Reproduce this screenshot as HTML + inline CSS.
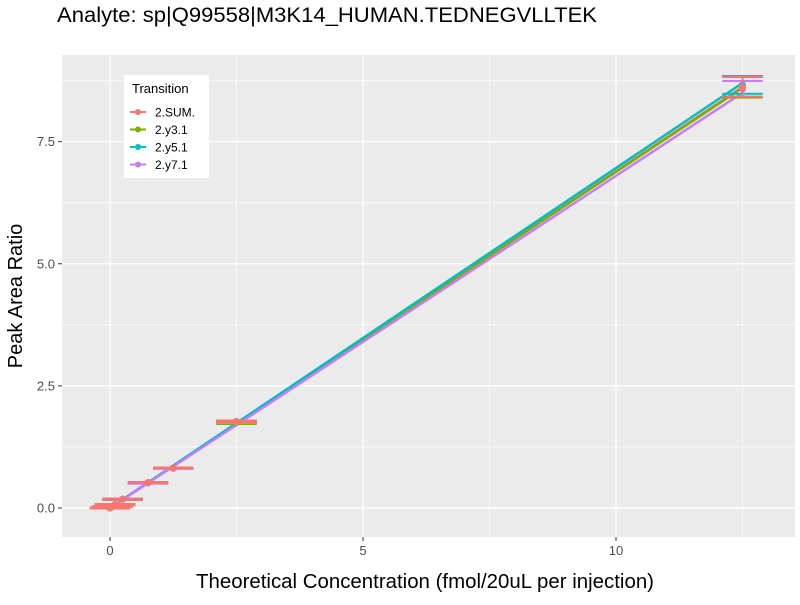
<!DOCTYPE html>
<html><head><meta charset="utf-8"><style>
body{margin:0;background:#fff;font-family:"Liberation Sans",sans-serif}
</style></head><body>
<svg width="800" height="600" xmlns="http://www.w3.org/2000/svg" font-family="Liberation Sans, sans-serif">
<text x="57" y="22" font-size="21" textLength="540" lengthAdjust="spacingAndGlyphs" fill="#000">Analyte: sp|Q99558|M3K14_HUMAN.TEDNEGVLLTEK</text>
<rect x="62" y="55" width="733" height="482" fill="#EBEBEB"/>
<g id="grid"></g>
<g id="marks"></g>
<g id="axes"></g>
<g>
<rect x="124" y="75" width="85" height="103" fill="#fff"/>
<text x="132" y="93" font-size="13">Transition</text>
<g id="legend-items"></g>
</g>
<text x="425" y="588" font-size="20" textLength="458" lengthAdjust="spacingAndGlyphs" text-anchor="middle">Theoretical Concentration (fmol/20uL per injection)</text>
<text transform="translate(22,296) rotate(-90)" font-size="20" text-anchor="middle">Peak Area Ratio</text>
</svg>
<script>
const names=["2.SUM.","2.y3.1","2.y5.1","2.y7.1"];
const colors=["#F8766D","#7CAE00","#00BFC4","#C77CFF"];
const conc=[0,0.05,0.1,0.25,0.75,1.25,2.5,12.5];
const meanSum=[0,0.03,0.07,0.18,0.52,0.82,1.77,8.62];
const meanY3=[0,0.03,0.07,0.18,0.52,0.82,1.75,8.62];
const meanY5=[0,0.03,0.07,0.18,0.52,0.82,1.77,8.66];
const meanY7=[0,0.03,0.07,0.18,0.51,0.81,1.76,8.58];
const sdSum=[0.01,0.01,0.01,0.01,0.01,0.01,0.02,0.2];
const sdY3=[0.01,0.01,0.01,0.01,0.01,0.01,0.03,0.22];
const sdY5=[0.01,0.01,0.01,0.01,0.01,0.01,0.02,0.18];
const sdY7=[0.01,0.01,0.01,0.01,0.01,0.01,0.02,0.16];
const fitEnd=[8.62,8.6,8.7,8.5];
const xTicks=[0,5,10];const yTicks=[0,2.5,5,7.5];
const yTickLabels=["0.0","2.5","5.0","7.5"];
const means=[meanSum,meanY3,meanY5,meanY7],sds=[sdSum,sdY3,sdY5,sdY7];
const X=v=>110+v*50.6, Y=v=>508-v*48.85;
const NS="http://www.w3.org/2000/svg";
function mk(t,a,p){const e=document.createElementNS(NS,t);for(const k in a)e.setAttribute(k,a[k]);p.appendChild(e);return e;}
const grid=document.getElementById('grid'),marks=document.getElementById('marks'),axes=document.getElementById('axes');
[2.5,7.5,12.5].forEach(v=>{if(X(v)<795){const l=mk('line',{x1:X(v),x2:X(v),y1:55,y2:537,stroke:'#fff','stroke-width':0.6},grid);}});
[1.25,3.75,6.25,8.75].forEach(v=>{const l=mk('line',{x1:62,x2:795,y1:Y(v),y2:Y(v),stroke:'#fff','stroke-width':0.6},grid);});
xTicks.forEach(v=>{const l=mk('line',{x1:X(v),x2:X(v),y1:55,y2:537,stroke:'#fff','stroke-width':1.2},grid);
mk('line',{x1:X(v),x2:X(v),y1:537,y2:541,stroke:'#333'},axes);
const t=mk('text',{x:X(v),y:555,'font-size':13,'text-anchor':'middle',fill:'#4D4D4D'},axes);t.textContent=v;});
yTicks.forEach((v,i)=>{const l=mk('line',{x1:62,x2:795,y1:Y(v),y2:Y(v),stroke:'#fff','stroke-width':1.2},grid);
mk('line',{x1:58,x2:62,y1:Y(v),y2:Y(v),stroke:'#333'},axes);
const t=mk('text',{x:55,y:Y(v)+4.5,'font-size':13,'text-anchor':'end',fill:'#4D4D4D'},axes);t.textContent=yTickLabels[i];});
const order=[0,1,2,3];
order.forEach(s=>{const l=mk('line',{x1:X(0),y1:Y(0),x2:X(12.5),y2:Y(fitEnd[s]),stroke:colors[s],'stroke-width':2.5},marks);});
[1,2,3,0].forEach(s=>{conc.forEach((c,i)=>{const m=means[s][i],d=sds[s][i];const g=mk('g',{},marks);
[m-d,m+d].forEach(v=>mk('line',{x1:X(c-0.4),x2:X(c+0.4),y1:Y(v),y2:Y(v),stroke:colors[s],'stroke-width':2},g));
mk('line',{x1:X(c),x2:X(c),y1:Y(m-d),y2:Y(m+d),stroke:colors[s],'stroke-width':2},g);
const p=mk('circle',{cx:X(c),cy:Y(m),r:3.5,fill:colors[s]},marks);});});
const li=document.getElementById('legend-items');
names.forEach((n,i)=>{const y=112+i*17.5;const g=mk('g',{},li);
mk('line',{x1:130,x2:146,y1:y,y2:y,stroke:colors[i],'stroke-width':2},g);mk('circle',{cx:138,cy:y,r:3,fill:colors[i]},g);
const t=mk('text',{x:155,y:y+4.5,'font-size':12},g);t.textContent=n;});
</script>
</body></html>
